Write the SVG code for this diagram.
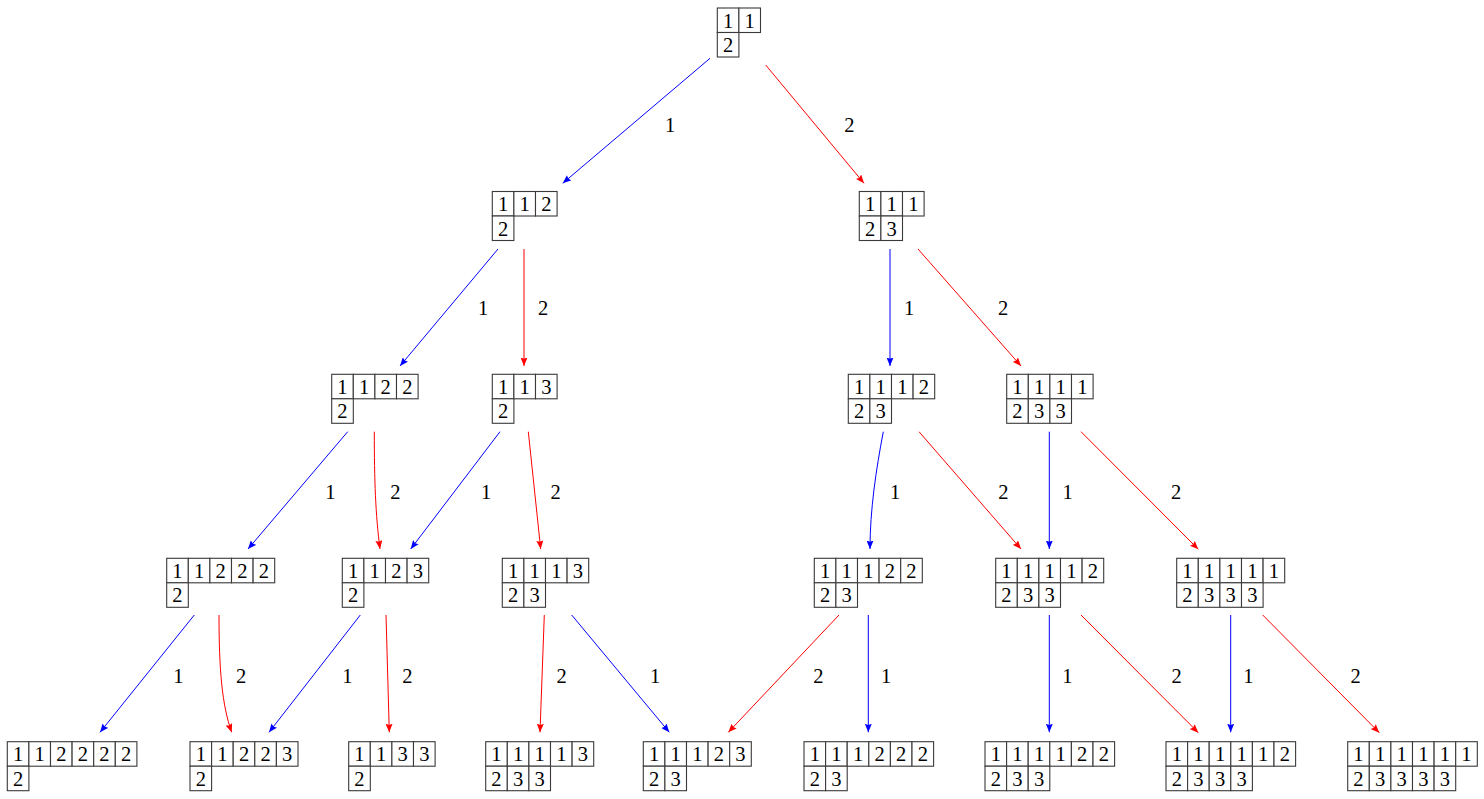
<svg xmlns="http://www.w3.org/2000/svg" width="1484" height="799" viewBox="0 0 1484 799">
<style>
.c{fill:#fff;stroke:#3a3a3a;stroke-width:1.1}
.t{font-family:"Liberation Serif","DejaVu Serif",serif;font-size:20.5px;text-anchor:middle;fill:#000}
.b{fill:none;stroke:#0000ff;stroke-width:1;marker-end:url(#ab)}
.r{fill:none;stroke:#ff0000;stroke-width:1;marker-end:url(#ar)}
.l{font-family:"Liberation Serif","DejaVu Serif",serif;font-size:20.5px;text-anchor:middle;fill:#000}
</style>
<defs>
<marker id="ab" markerUnits="userSpaceOnUse" markerWidth="9" markerHeight="7" refX="8.5" refY="3.5" orient="auto"><path d="M0,0 L8.5,3.5 L0,7 L1.2,3.5 z" fill="#0000ff"/></marker>
<marker id="ar" markerUnits="userSpaceOnUse" markerWidth="9" markerHeight="7" refX="8.5" refY="3.5" orient="auto"><path d="M0,0 L8.5,3.5 L0,7 L1.2,3.5 z" fill="#ff0000"/></marker>
</defs>
<rect width="1484" height="799" fill="#fff"/>

<g id="connectors">
<path class="b" d="M710,58.3 L562.7,183.3"/>
<path class="r" d="M765.7,65 L864,183.3"/>
<path class="b" d="M498,249 L400,366"/>
<path class="r" d="M524,249 L524,366"/>
<path class="b" d="M890,249 L890,366"/>
<path class="r" d="M918,249 L1021,366"/>
<path class="b" d="M347.7,431.7 L248,549"/>
<path class="r" d="M374.3,431.7 C374.3,480 375.5,515 380,549"/>
<path class="b" d="M500,431.7 L410.7,549"/>
<path class="r" d="M528.3,431.7 L540.7,549"/>
<path class="b" d="M883.3,431.7 C876,470 870,510 870,549"/>
<path class="r" d="M919,431.7 L1021,549"/>
<path class="b" d="M1049.3,431.7 L1049.3,549"/>
<path class="r" d="M1081,431.7 L1198.3,549.3"/>
<path class="b" d="M194.3,615 L100,732.3"/>
<path class="r" d="M219,615 C219,670 222,705 231.7,732.3"/>
<path class="b" d="M360.3,615 L269,732.3"/>
<path class="r" d="M386,615 L389.3,732.3"/>
<path class="r" d="M544.3,615 L540,732.3"/>
<path class="b" d="M571.7,615 L669.3,732.3"/>
<path class="r" d="M839,615 L728.3,732.3"/>
<path class="b" d="M868.3,615 L868.3,732.3"/>
<path class="b" d="M1049.3,615 L1049.3,732.3"/>
<path class="r" d="M1081,615 L1198.3,732.7"/>
<path class="b" d="M1230.7,615 L1230.7,732.3"/>
<path class="r" d="M1262.7,615 L1379.3,732.7"/>
<g id="edge-labels">
<text class="l" x="670" y="132">1</text>
<text class="l" x="849.3" y="132">2</text>
<text class="l" x="483" y="315">1</text>
<text class="l" x="543" y="315">2</text>
<text class="l" x="909" y="315">1</text>
<text class="l" x="1003" y="315">2</text>
<text class="l" x="330.3" y="499">1</text>
<text class="l" x="395.3" y="499">2</text>
<text class="l" x="486" y="499">1</text>
<text class="l" x="555.7" y="499">2</text>
<text class="l" x="895" y="499">1</text>
<text class="l" x="1003.3" y="499">2</text>
<text class="l" x="1067.7" y="499">1</text>
<text class="l" x="1176" y="499">2</text>
<text class="l" x="178.3" y="683">1</text>
<text class="l" x="241" y="683">2</text>
<text class="l" x="347.3" y="683">1</text>
<text class="l" x="407.3" y="683">2</text>
<text class="l" x="561.7" y="683">2</text>
<text class="l" x="655" y="683">1</text>
<text class="l" x="818.3" y="683">2</text>
<text class="l" x="886" y="683">1</text>
<text class="l" x="1067.3" y="683">1</text>
<text class="l" x="1176.7" y="683">2</text>
<text class="l" x="1248.3" y="683">1</text>
<text class="l" x="1355.7" y="683">2</text>
</g>
</g>

<g id="n0" transform="translate(717.3,8)">
<rect class="c" x="0" y="0" width="21.6" height="24.5"/><rect class="c" x="21.6" y="0" width="21.6" height="24.5"/>
<rect class="c" x="0" y="24.5" width="21.6" height="24.5"/>
<text class="t" x="10.8" y="19.5">1</text><text class="t" x="32.4" y="19.5">1</text>
<text class="t" x="10.8" y="44">2</text>
</g>

<g id="n1" transform="translate(492.3,191.5)">
<rect class="c" x="0" y="0" width="21.6" height="24.5"/><rect class="c" x="21.6" y="0" width="21.6" height="24.5"/><rect class="c" x="43.2" y="0" width="21.6" height="24.5"/>
<rect class="c" x="0" y="24.5" width="21.6" height="24.5"/>
<text class="t" x="10.8" y="19.5">1</text><text class="t" x="32.4" y="19.5">1</text><text class="t" x="54" y="19.5">2</text>
<text class="t" x="10.8" y="44">2</text>
</g>

<g id="n2" transform="translate(859.3,191.5)">
<rect class="c" x="0" y="0" width="21.6" height="24.5"/><rect class="c" x="21.6" y="0" width="21.6" height="24.5"/><rect class="c" x="43.2" y="0" width="21.6" height="24.5"/>
<rect class="c" x="0" y="24.5" width="21.6" height="24.5"/><rect class="c" x="21.6" y="24.5" width="21.6" height="24.5"/>
<text class="t" x="10.8" y="19.5">1</text><text class="t" x="32.4" y="19.5">1</text><text class="t" x="54" y="19.5">1</text>
<text class="t" x="10.8" y="44">2</text><text class="t" x="32.4" y="44">3</text>
</g>

<g id="n3" transform="translate(331.7,374.3)">
<rect class="c" x="0" y="0" width="21.6" height="24.5"/><rect class="c" x="21.6" y="0" width="21.6" height="24.5"/><rect class="c" x="43.2" y="0" width="21.6" height="24.5"/><rect class="c" x="64.8" y="0" width="21.6" height="24.5"/>
<rect class="c" x="0" y="24.5" width="21.6" height="24.5"/>
<text class="t" x="10.8" y="19.5">1</text><text class="t" x="32.4" y="19.5">1</text><text class="t" x="54" y="19.5">2</text><text class="t" x="75.6" y="19.5">2</text>
<text class="t" x="10.8" y="44">2</text>
</g>

<g id="n4" transform="translate(492.3,374.3)">
<rect class="c" x="0" y="0" width="21.6" height="24.5"/><rect class="c" x="21.6" y="0" width="21.6" height="24.5"/><rect class="c" x="43.2" y="0" width="21.6" height="24.5"/>
<rect class="c" x="0" y="24.5" width="21.6" height="24.5"/>
<text class="t" x="10.8" y="19.5">1</text><text class="t" x="32.4" y="19.5">1</text><text class="t" x="54" y="19.5">3</text>
<text class="t" x="10.8" y="44">2</text>
</g>

<g id="n5" transform="translate(848.3,374.3)">
<rect class="c" x="0" y="0" width="21.6" height="24.5"/><rect class="c" x="21.6" y="0" width="21.6" height="24.5"/><rect class="c" x="43.2" y="0" width="21.6" height="24.5"/><rect class="c" x="64.8" y="0" width="21.6" height="24.5"/>
<rect class="c" x="0" y="24.5" width="21.6" height="24.5"/><rect class="c" x="21.6" y="24.5" width="21.6" height="24.5"/>
<text class="t" x="10.8" y="19.5">1</text><text class="t" x="32.4" y="19.5">1</text><text class="t" x="54" y="19.5">1</text><text class="t" x="75.6" y="19.5">2</text>
<text class="t" x="10.8" y="44">2</text><text class="t" x="32.4" y="44">3</text>
</g>

<g id="n6" transform="translate(1006.7,374.3)">
<rect class="c" x="0" y="0" width="21.6" height="24.5"/><rect class="c" x="21.6" y="0" width="21.6" height="24.5"/><rect class="c" x="43.2" y="0" width="21.6" height="24.5"/><rect class="c" x="64.8" y="0" width="21.6" height="24.5"/>
<rect class="c" x="0" y="24.5" width="21.6" height="24.5"/><rect class="c" x="21.6" y="24.5" width="21.6" height="24.5"/><rect class="c" x="43.2" y="24.5" width="21.6" height="24.5"/>
<text class="t" x="10.8" y="19.5">1</text><text class="t" x="32.4" y="19.5">1</text><text class="t" x="54" y="19.5">1</text><text class="t" x="75.6" y="19.5">1</text>
<text class="t" x="10.8" y="44">2</text><text class="t" x="32.4" y="44">3</text><text class="t" x="54" y="44">3</text>
</g>

<g id="n7" transform="translate(166.7,558.3)">
<rect class="c" x="0" y="0" width="21.6" height="24.5"/><rect class="c" x="21.6" y="0" width="21.6" height="24.5"/><rect class="c" x="43.2" y="0" width="21.6" height="24.5"/><rect class="c" x="64.8" y="0" width="21.6" height="24.5"/><rect class="c" x="86.4" y="0" width="21.6" height="24.5"/>
<rect class="c" x="0" y="24.5" width="21.6" height="24.5"/>
<text class="t" x="10.8" y="19.5">1</text><text class="t" x="32.4" y="19.5">1</text><text class="t" x="54" y="19.5">2</text><text class="t" x="75.6" y="19.5">2</text><text class="t" x="97.2" y="19.5">2</text>
<text class="t" x="10.8" y="44">2</text>
</g>

<g id="n8" transform="translate(342.3,558.3)">
<rect class="c" x="0" y="0" width="21.6" height="24.5"/><rect class="c" x="21.6" y="0" width="21.6" height="24.5"/><rect class="c" x="43.2" y="0" width="21.6" height="24.5"/><rect class="c" x="64.8" y="0" width="21.6" height="24.5"/>
<rect class="c" x="0" y="24.5" width="21.6" height="24.5"/>
<text class="t" x="10.8" y="19.5">1</text><text class="t" x="32.4" y="19.5">1</text><text class="t" x="54" y="19.5">2</text><text class="t" x="75.6" y="19.5">3</text>
<text class="t" x="10.8" y="44">2</text>
</g>

<g id="n9" transform="translate(502.3,558.3)">
<rect class="c" x="0" y="0" width="21.6" height="24.5"/><rect class="c" x="21.6" y="0" width="21.6" height="24.5"/><rect class="c" x="43.2" y="0" width="21.6" height="24.5"/><rect class="c" x="64.8" y="0" width="21.6" height="24.5"/>
<rect class="c" x="0" y="24.5" width="21.6" height="24.5"/><rect class="c" x="21.6" y="24.5" width="21.6" height="24.5"/>
<text class="t" x="10.8" y="19.5">1</text><text class="t" x="32.4" y="19.5">1</text><text class="t" x="54" y="19.5">1</text><text class="t" x="75.6" y="19.5">3</text>
<text class="t" x="10.8" y="44">2</text><text class="t" x="32.4" y="44">3</text>
</g>

<g id="n10" transform="translate(814.3,558.3)">
<rect class="c" x="0" y="0" width="21.6" height="24.5"/><rect class="c" x="21.6" y="0" width="21.6" height="24.5"/><rect class="c" x="43.2" y="0" width="21.6" height="24.5"/><rect class="c" x="64.8" y="0" width="21.6" height="24.5"/><rect class="c" x="86.4" y="0" width="21.6" height="24.5"/>
<rect class="c" x="0" y="24.5" width="21.6" height="24.5"/><rect class="c" x="21.6" y="24.5" width="21.6" height="24.5"/>
<text class="t" x="10.8" y="19.5">1</text><text class="t" x="32.4" y="19.5">1</text><text class="t" x="54" y="19.5">1</text><text class="t" x="75.6" y="19.5">2</text><text class="t" x="97.2" y="19.5">2</text>
<text class="t" x="10.8" y="44">2</text><text class="t" x="32.4" y="44">3</text>
</g>

<g id="n11" transform="translate(995.7,558.3)">
<rect class="c" x="0" y="0" width="21.6" height="24.5"/><rect class="c" x="21.6" y="0" width="21.6" height="24.5"/><rect class="c" x="43.2" y="0" width="21.6" height="24.5"/><rect class="c" x="64.8" y="0" width="21.6" height="24.5"/><rect class="c" x="86.4" y="0" width="21.6" height="24.5"/>
<rect class="c" x="0" y="24.5" width="21.6" height="24.5"/><rect class="c" x="21.6" y="24.5" width="21.6" height="24.5"/><rect class="c" x="43.2" y="24.5" width="21.6" height="24.5"/>
<text class="t" x="10.8" y="19.5">1</text><text class="t" x="32.4" y="19.5">1</text><text class="t" x="54" y="19.5">1</text><text class="t" x="75.6" y="19.5">1</text><text class="t" x="97.2" y="19.5">2</text>
<text class="t" x="10.8" y="44">2</text><text class="t" x="32.4" y="44">3</text><text class="t" x="54" y="44">3</text>
</g>

<g id="n12" transform="translate(1176.7,558.3)">
<rect class="c" x="0" y="0" width="21.6" height="24.5"/><rect class="c" x="21.6" y="0" width="21.6" height="24.5"/><rect class="c" x="43.2" y="0" width="21.6" height="24.5"/><rect class="c" x="64.8" y="0" width="21.6" height="24.5"/><rect class="c" x="86.4" y="0" width="21.6" height="24.5"/>
<rect class="c" x="0" y="24.5" width="21.6" height="24.5"/><rect class="c" x="21.6" y="24.5" width="21.6" height="24.5"/><rect class="c" x="43.2" y="24.5" width="21.6" height="24.5"/><rect class="c" x="64.8" y="24.5" width="21.6" height="24.5"/>
<text class="t" x="10.8" y="19.5">1</text><text class="t" x="32.4" y="19.5">1</text><text class="t" x="54" y="19.5">1</text><text class="t" x="75.6" y="19.5">1</text><text class="t" x="97.2" y="19.5">1</text>
<text class="t" x="10.8" y="44">2</text><text class="t" x="32.4" y="44">3</text><text class="t" x="54" y="44">3</text><text class="t" x="75.6" y="44">3</text>
</g>

<g id="n13" transform="translate(7.3,741.7)">
<rect class="c" x="0" y="0" width="21.6" height="24.5"/><rect class="c" x="21.6" y="0" width="21.6" height="24.5"/><rect class="c" x="43.2" y="0" width="21.6" height="24.5"/><rect class="c" x="64.8" y="0" width="21.6" height="24.5"/><rect class="c" x="86.4" y="0" width="21.6" height="24.5"/><rect class="c" x="108" y="0" width="21.6" height="24.5"/>
<rect class="c" x="0" y="24.5" width="21.6" height="24.5"/>
<text class="t" x="10.8" y="19.5">1</text><text class="t" x="32.4" y="19.5">1</text><text class="t" x="54" y="19.5">2</text><text class="t" x="75.6" y="19.5">2</text><text class="t" x="97.2" y="19.5">2</text><text class="t" x="118.8" y="19.5">2</text>
<text class="t" x="10.8" y="44">2</text>
</g>

<g id="n14" transform="translate(190,741.7)">
<rect class="c" x="0" y="0" width="21.6" height="24.5"/><rect class="c" x="21.6" y="0" width="21.6" height="24.5"/><rect class="c" x="43.2" y="0" width="21.6" height="24.5"/><rect class="c" x="64.8" y="0" width="21.6" height="24.5"/><rect class="c" x="86.4" y="0" width="21.6" height="24.5"/>
<rect class="c" x="0" y="24.5" width="21.6" height="24.5"/>
<text class="t" x="10.8" y="19.5">1</text><text class="t" x="32.4" y="19.5">1</text><text class="t" x="54" y="19.5">2</text><text class="t" x="75.6" y="19.5">2</text><text class="t" x="97.2" y="19.5">3</text>
<text class="t" x="10.8" y="44">2</text>
</g>

<g id="n15" transform="translate(348.7,741.7)">
<rect class="c" x="0" y="0" width="21.6" height="24.5"/><rect class="c" x="21.6" y="0" width="21.6" height="24.5"/><rect class="c" x="43.2" y="0" width="21.6" height="24.5"/><rect class="c" x="64.8" y="0" width="21.6" height="24.5"/>
<rect class="c" x="0" y="24.5" width="21.6" height="24.5"/>
<text class="t" x="10.8" y="19.5">1</text><text class="t" x="32.4" y="19.5">1</text><text class="t" x="54" y="19.5">3</text><text class="t" x="75.6" y="19.5">3</text>
<text class="t" x="10.8" y="44">2</text>
</g>

<g id="n16" transform="translate(485.7,741.7)">
<rect class="c" x="0" y="0" width="21.6" height="24.5"/><rect class="c" x="21.6" y="0" width="21.6" height="24.5"/><rect class="c" x="43.2" y="0" width="21.6" height="24.5"/><rect class="c" x="64.8" y="0" width="21.6" height="24.5"/><rect class="c" x="86.4" y="0" width="21.6" height="24.5"/>
<rect class="c" x="0" y="24.5" width="21.6" height="24.5"/><rect class="c" x="21.6" y="24.5" width="21.6" height="24.5"/><rect class="c" x="43.2" y="24.5" width="21.6" height="24.5"/>
<text class="t" x="10.8" y="19.5">1</text><text class="t" x="32.4" y="19.5">1</text><text class="t" x="54" y="19.5">1</text><text class="t" x="75.6" y="19.5">1</text><text class="t" x="97.2" y="19.5">3</text>
<text class="t" x="10.8" y="44">2</text><text class="t" x="32.4" y="44">3</text><text class="t" x="54" y="44">3</text>
</g>

<g id="n17" transform="translate(643.3,741.7)">
<rect class="c" x="0" y="0" width="21.6" height="24.5"/><rect class="c" x="21.6" y="0" width="21.6" height="24.5"/><rect class="c" x="43.2" y="0" width="21.6" height="24.5"/><rect class="c" x="64.8" y="0" width="21.6" height="24.5"/><rect class="c" x="86.4" y="0" width="21.6" height="24.5"/>
<rect class="c" x="0" y="24.5" width="21.6" height="24.5"/><rect class="c" x="21.6" y="24.5" width="21.6" height="24.5"/>
<text class="t" x="10.8" y="19.5">1</text><text class="t" x="32.4" y="19.5">1</text><text class="t" x="54" y="19.5">1</text><text class="t" x="75.6" y="19.5">2</text><text class="t" x="97.2" y="19.5">3</text>
<text class="t" x="10.8" y="44">2</text><text class="t" x="32.4" y="44">3</text>
</g>

<g id="n18" transform="translate(804,741.7)">
<rect class="c" x="0" y="0" width="21.6" height="24.5"/><rect class="c" x="21.6" y="0" width="21.6" height="24.5"/><rect class="c" x="43.2" y="0" width="21.6" height="24.5"/><rect class="c" x="64.8" y="0" width="21.6" height="24.5"/><rect class="c" x="86.4" y="0" width="21.6" height="24.5"/><rect class="c" x="108" y="0" width="21.6" height="24.5"/>
<rect class="c" x="0" y="24.5" width="21.6" height="24.5"/><rect class="c" x="21.6" y="24.5" width="21.6" height="24.5"/>
<text class="t" x="10.8" y="19.5">1</text><text class="t" x="32.4" y="19.5">1</text><text class="t" x="54" y="19.5">1</text><text class="t" x="75.6" y="19.5">2</text><text class="t" x="97.2" y="19.5">2</text><text class="t" x="118.8" y="19.5">2</text>
<text class="t" x="10.8" y="44">2</text><text class="t" x="32.4" y="44">3</text>
</g>

<g id="n19" transform="translate(985,741.7)">
<rect class="c" x="0" y="0" width="21.6" height="24.5"/><rect class="c" x="21.6" y="0" width="21.6" height="24.5"/><rect class="c" x="43.2" y="0" width="21.6" height="24.5"/><rect class="c" x="64.8" y="0" width="21.6" height="24.5"/><rect class="c" x="86.4" y="0" width="21.6" height="24.5"/><rect class="c" x="108" y="0" width="21.6" height="24.5"/>
<rect class="c" x="0" y="24.5" width="21.6" height="24.5"/><rect class="c" x="21.6" y="24.5" width="21.6" height="24.5"/><rect class="c" x="43.2" y="24.5" width="21.6" height="24.5"/>
<text class="t" x="10.8" y="19.5">1</text><text class="t" x="32.4" y="19.5">1</text><text class="t" x="54" y="19.5">1</text><text class="t" x="75.6" y="19.5">1</text><text class="t" x="97.2" y="19.5">2</text><text class="t" x="118.8" y="19.5">2</text>
<text class="t" x="10.8" y="44">2</text><text class="t" x="32.4" y="44">3</text><text class="t" x="54" y="44">3</text>
</g>

<g id="n20" transform="translate(1166,741.7)">
<rect class="c" x="0" y="0" width="21.6" height="24.5"/><rect class="c" x="21.6" y="0" width="21.6" height="24.5"/><rect class="c" x="43.2" y="0" width="21.6" height="24.5"/><rect class="c" x="64.8" y="0" width="21.6" height="24.5"/><rect class="c" x="86.4" y="0" width="21.6" height="24.5"/><rect class="c" x="108" y="0" width="21.6" height="24.5"/>
<rect class="c" x="0" y="24.5" width="21.6" height="24.5"/><rect class="c" x="21.6" y="24.5" width="21.6" height="24.5"/><rect class="c" x="43.2" y="24.5" width="21.6" height="24.5"/><rect class="c" x="64.8" y="24.5" width="21.6" height="24.5"/>
<text class="t" x="10.8" y="19.5">1</text><text class="t" x="32.4" y="19.5">1</text><text class="t" x="54" y="19.5">1</text><text class="t" x="75.6" y="19.5">1</text><text class="t" x="97.2" y="19.5">1</text><text class="t" x="118.8" y="19.5">2</text>
<text class="t" x="10.8" y="44">2</text><text class="t" x="32.4" y="44">3</text><text class="t" x="54" y="44">3</text><text class="t" x="75.6" y="44">3</text>
</g>

<g id="n21" transform="translate(1347.7,741.7)">
<rect class="c" x="0" y="0" width="21.6" height="24.5"/><rect class="c" x="21.6" y="0" width="21.6" height="24.5"/><rect class="c" x="43.2" y="0" width="21.6" height="24.5"/><rect class="c" x="64.8" y="0" width="21.6" height="24.5"/><rect class="c" x="86.4" y="0" width="21.6" height="24.5"/><rect class="c" x="108" y="0" width="21.6" height="24.5"/>
<rect class="c" x="0" y="24.5" width="21.6" height="24.5"/><rect class="c" x="21.6" y="24.5" width="21.6" height="24.5"/><rect class="c" x="43.2" y="24.5" width="21.6" height="24.5"/><rect class="c" x="64.8" y="24.5" width="21.6" height="24.5"/><rect class="c" x="86.4" y="24.5" width="21.6" height="24.5"/>
<text class="t" x="10.8" y="19.5">1</text><text class="t" x="32.4" y="19.5">1</text><text class="t" x="54" y="19.5">1</text><text class="t" x="75.6" y="19.5">1</text><text class="t" x="97.2" y="19.5">1</text><text class="t" x="118.8" y="19.5">1</text>
<text class="t" x="10.8" y="44">2</text><text class="t" x="32.4" y="44">3</text><text class="t" x="54" y="44">3</text><text class="t" x="75.6" y="44">3</text><text class="t" x="97.2" y="44">3</text>
</g>
</svg>
